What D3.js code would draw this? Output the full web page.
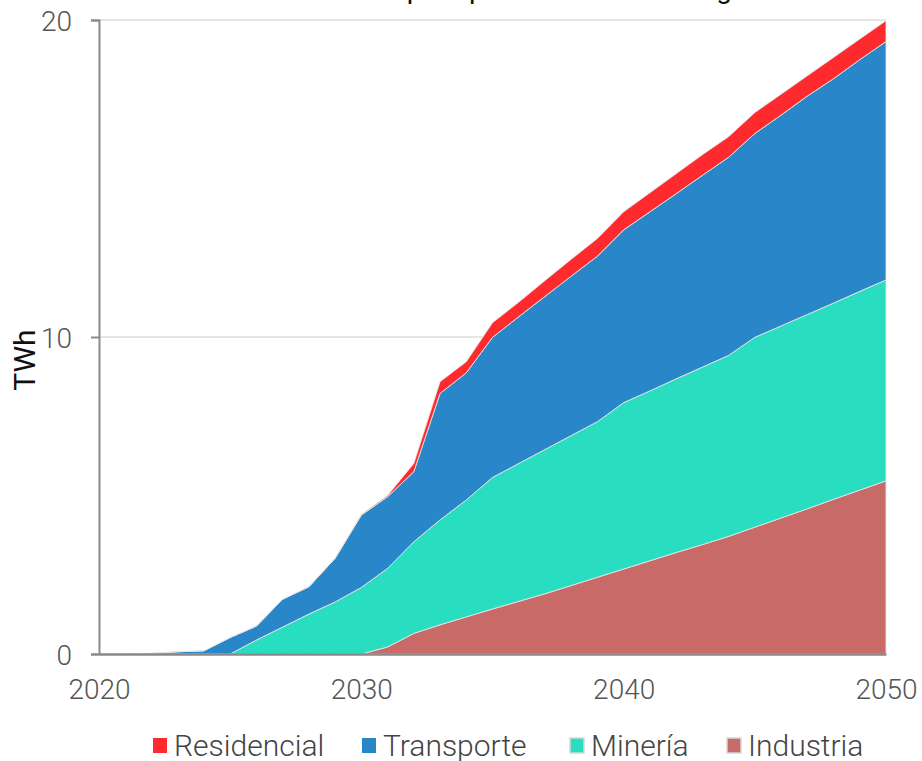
<!DOCTYPE html>
<html><head><meta charset="utf-8">
<script src="https://cdn.jsdelivr.net/npm/d3@7"></script>
<style>
html,body{margin:0;padding:0;background:#fff;}
svg{display:block;}
text{font-family:Roboto,"Noto Sans",sans-serif;}
</style></head>
<body>
<svg id="chart" width="922" height="761"></svg>
<script>
const title = "Consumo eléctrico para producción de hidrógeno";
const yTitle = "TWh";
const years = d3.range(2020, 2051);
const seriesNames = ["Industria", "Minería", "Transporte", "Residencial"];
const legendOrder = ["Residencial", "Transporte", "Minería", "Industria"];
const colors = {Residencial:"#fe2a2d", Transporte:"#2986c8", "Minería":"#29dec0", Industria:"#c76a68"};
const yTicks = [0, 10, 20];
const xTicks = [2020, 2030, 2040, 2050];

const industria   = [0,0,0,0,0,0,0,0,0,0,0, 0.22,0.65,0.92,1.17,1.42,1.66,1.90,2.16,2.42,2.68,2.94,3.20,3.45,3.71,4.00,4.29,4.58,4.88,5.17,5.46];
const mineria     = [0,0,0,0,0,0, 0.44,0.85,1.26,1.64,2.10,2.48,2.89,3.31,3.69,4.15,4.35,4.55,4.73,4.91,5.25,5.36,5.48,5.60,5.71,5.99,6.06,6.13,6.19,6.27,6.34];
const transporte  = [0,0,0.02,0.07,0.10,0.52,0.44,0.88,0.86,1.38,2.28,2.26,2.21,3.99,4.01,4.42,4.63,4.83,5.03,5.22,5.45,5.65,5.84,6.05,6.25,6.43,6.65,6.89,7.08,7.31,7.52];
const residencial = [0,0,0,0,0,0,0,0,0,0,0.02,0.04,0.26,0.37,0.35,0.46,0.46,0.50,0.53,0.56,0.57,0.60,0.63,0.65,0.65,0.66,0.66,0.64,0.67,0.65,0.66];

const rows = years.map((y,i)=>({year:y, "Industria":industria[i], "Minería":mineria[i], "Transporte":transporte[i], "Residencial":residencial[i]}));

const svg = d3.select("#chart");
const L = 99, R = 886, T = 20, B = 654;
const x = d3.scaleLinear().domain([2020,2050]).range([L,R]);
const y = d3.scaleLinear().domain([0,20]).range([B,T]);

// title (mostly above the visible area, as in the reference)
svg.append("text").attr("x", 472).attr("y", -2).attr("text-anchor","middle")
  .attr("font-size", 28).attr("fill","#111").text(title);

// gridlines
svg.append("g").selectAll("line").data(yTicks.filter(d=>d>0)).join("line")
  .attr("x1", L).attr("x2", R).attr("y1", d=>y(d)).attr("y2", d=>y(d))
  .attr("stroke", "#dcdcdc").attr("stroke-width", 1.5);

const stack = d3.stack().keys(seriesNames);
const layers = stack(rows);
const area = d3.area().x(d=>x(d.data.year)).y0(d=>y(d[0])).y1(d=>y(d[1]));

svg.append("g").selectAll("path").data(layers).join("path")
  .attr("d", area)
  .attr("fill", d=>colors[d.key])
  .attr("stroke", "#e4e4e4").attr("stroke-width", 1).attr("stroke-opacity", 0.9);

// y axis
const yAxis = d3.axisLeft(y).tickValues(yTicks).tickSize(8).tickPadding(10).tickFormat(d3.format("d"));
const gy = svg.append("g").attr("transform", `translate(${L},0)`).call(yAxis);
gy.select(".domain").attr("stroke","#8a8a8a").attr("stroke-width",2);
gy.selectAll(".tick line").attr("stroke","#8a8a8a").attr("stroke-width",2);
gy.selectAll(".tick text").attr("font-size",28).attr("font-weight",300).attr("fill","#555")
  .attr("font-family","Roboto, sans-serif").attr("dy","0.36em").attr("x",-27);

// x axis
const xAxis = d3.axisBottom(x).tickValues(xTicks).tickSize(0).tickPadding(25).tickFormat(d3.format("d"));
const gx = svg.append("g").attr("transform", `translate(0,${B})`).call(xAxis);
gx.select(".domain").attr("stroke","#8a8a8a").attr("stroke-width",2.5);
gx.selectAll(".tick text").attr("font-size",28).attr("font-weight",300).attr("fill","#555")
  .attr("font-family","Roboto, sans-serif");

// y title
svg.append("text").attr("transform","translate(35,360) rotate(-90)").attr("text-anchor","middle")
  .attr("font-size",30).attr("fill","#111").text(yTitle);

// legend
const legendX = {Residencial:153, Transporte:362, "Minería":570, Industria:727};
const lg = svg.append("g").selectAll("g").data(legendOrder).join("g")
  .attr("transform", d=>`translate(${legendX[d]},738)`);
lg.append("rect").attr("width",14).attr("height",15).attr("fill", d=>colors[d])
  .attr("stroke", d=> (d==="Minería"||d==="Industria") ? "#d8d8d8" : "none").attr("stroke-width",1.5);
lg.append("text").attr("x",21).attr("y",18).attr("font-size",30).attr("font-weight",300)
  .attr("fill","#444").text(d=>d);
</script>
</body></html>
